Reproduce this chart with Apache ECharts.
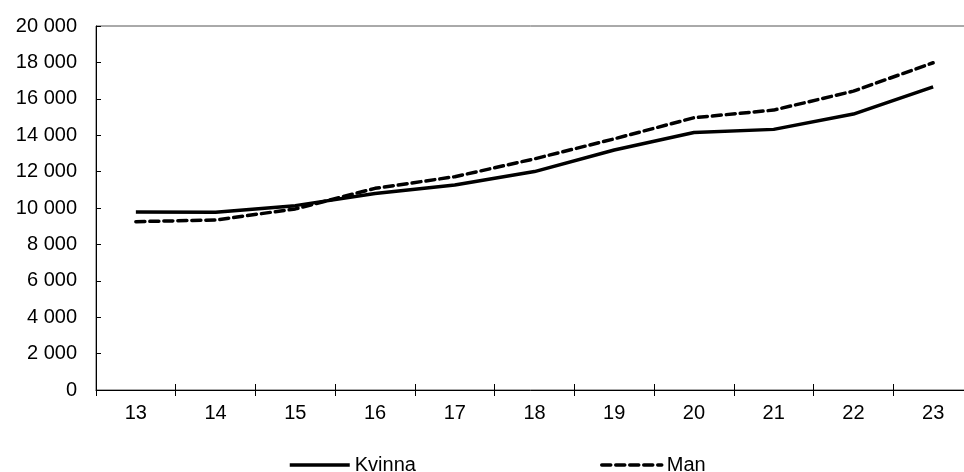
<!DOCTYPE html>
<html><head><meta charset="utf-8">
<script src="https://cdn.jsdelivr.net/npm/echarts@6/dist/echarts.min.js"></script>
<style>html,body{margin:0;padding:0;background:#fff}#c{width:964px;height:472px}</style>
</head><body><div id="c"></div>
<script>
const categories = ['13','14','15','16','17','18','19','20','21','22','23'];
const kvinna = [9780, 9760, 10130, 10800, 11260, 12000, 13190, 14150, 14320, 15160, 16660];
const man = [9250, 9340, 9950, 11080, 11720, 12700, 13800, 14960, 15380, 16420, 17980];
const yTicks = [0, 2000, 4000, 6000, 8000, 10000, 12000, 14000, 16000, 18000, 20000];

const chart = echarts.init(document.getElementById('c'), null, {renderer: 'canvas'});
const font = 'Liberation Sans, Arial, sans-serif';
const fs = 20;
chart.setOption({
  animation: false,
  backgroundColor: '#fff',
  grid: {left: 96, top: 26, width: 877, height: 364, show: true, borderColor: '#555', borderWidth: 1,
         containLabel: false, outerBoundsMode: 'none'},
  legend: [
    {data: ['Kvinna'], left: 288, top: 455, padding: 0, itemWidth: 60, itemHeight: 14,
     itemStyle: {opacity: 0}, lineStyle: {width: 3.5},
     textStyle: {fontFamily: font, fontSize: fs, color: '#000'}},
    {data: ['Man'], left: 600, top: 455, padding: 0, itemWidth: 60, itemHeight: 14,
     itemStyle: {opacity: 0}, lineStyle: {width: 3.5},
     textStyle: {fontFamily: font, fontSize: fs, color: '#000'}}
  ],
  xAxis: [{
    type: 'category', data: categories, boundaryGap: true, position: 'bottom',
    axisLine: {lineStyle: {color: '#000', width: 1}},
    axisTick: {show: true, length: 6, inside: false, lineStyle: {color: '#000'}},
    axisLabel: {fontFamily: font, fontSize: fs, color: '#000', margin: 13}
  }, {
    type: 'category', data: categories, boundaryGap: true, position: 'bottom', offset: 0,
    axisLine: {show: false},
    axisTick: {show: true, length: 6, inside: true, lineStyle: {color: '#000'}},
    axisLabel: {show: false}
  }],
  yAxis: {
    type: 'value', min: yTicks[0], max: yTicks[yTicks.length-1], interval: 2000,
    axisLine: {show: true, lineStyle: {color: '#000', width: 1}},
    axisTick: {show: true, length: 5, inside: true, lineStyle: {color: '#000'}},
    splitLine: {show: false},
    axisLabel: {fontFamily: font, fontSize: fs, color: '#000', margin: 19,
      formatter: v => String(v).replace(/\B(?=(\d{3})+(?!\d))/g, ' ')}
  },
  series: [
    {name: 'Kvinna', type: 'line', data: kvinna, symbol: 'none', showSymbol: false,
     lineStyle: {color: '#000', width: 3.5, type: 'solid'}, itemStyle: {color: '#000'}},
    {name: 'Man', type: 'line', data: man, symbol: 'none', showSymbol: false,
     lineStyle: {color: '#000', width: 3.5, type: [9, 5], cap: 'round'}, itemStyle: {color: '#000'}}
  ]
});
</script></body></html>
